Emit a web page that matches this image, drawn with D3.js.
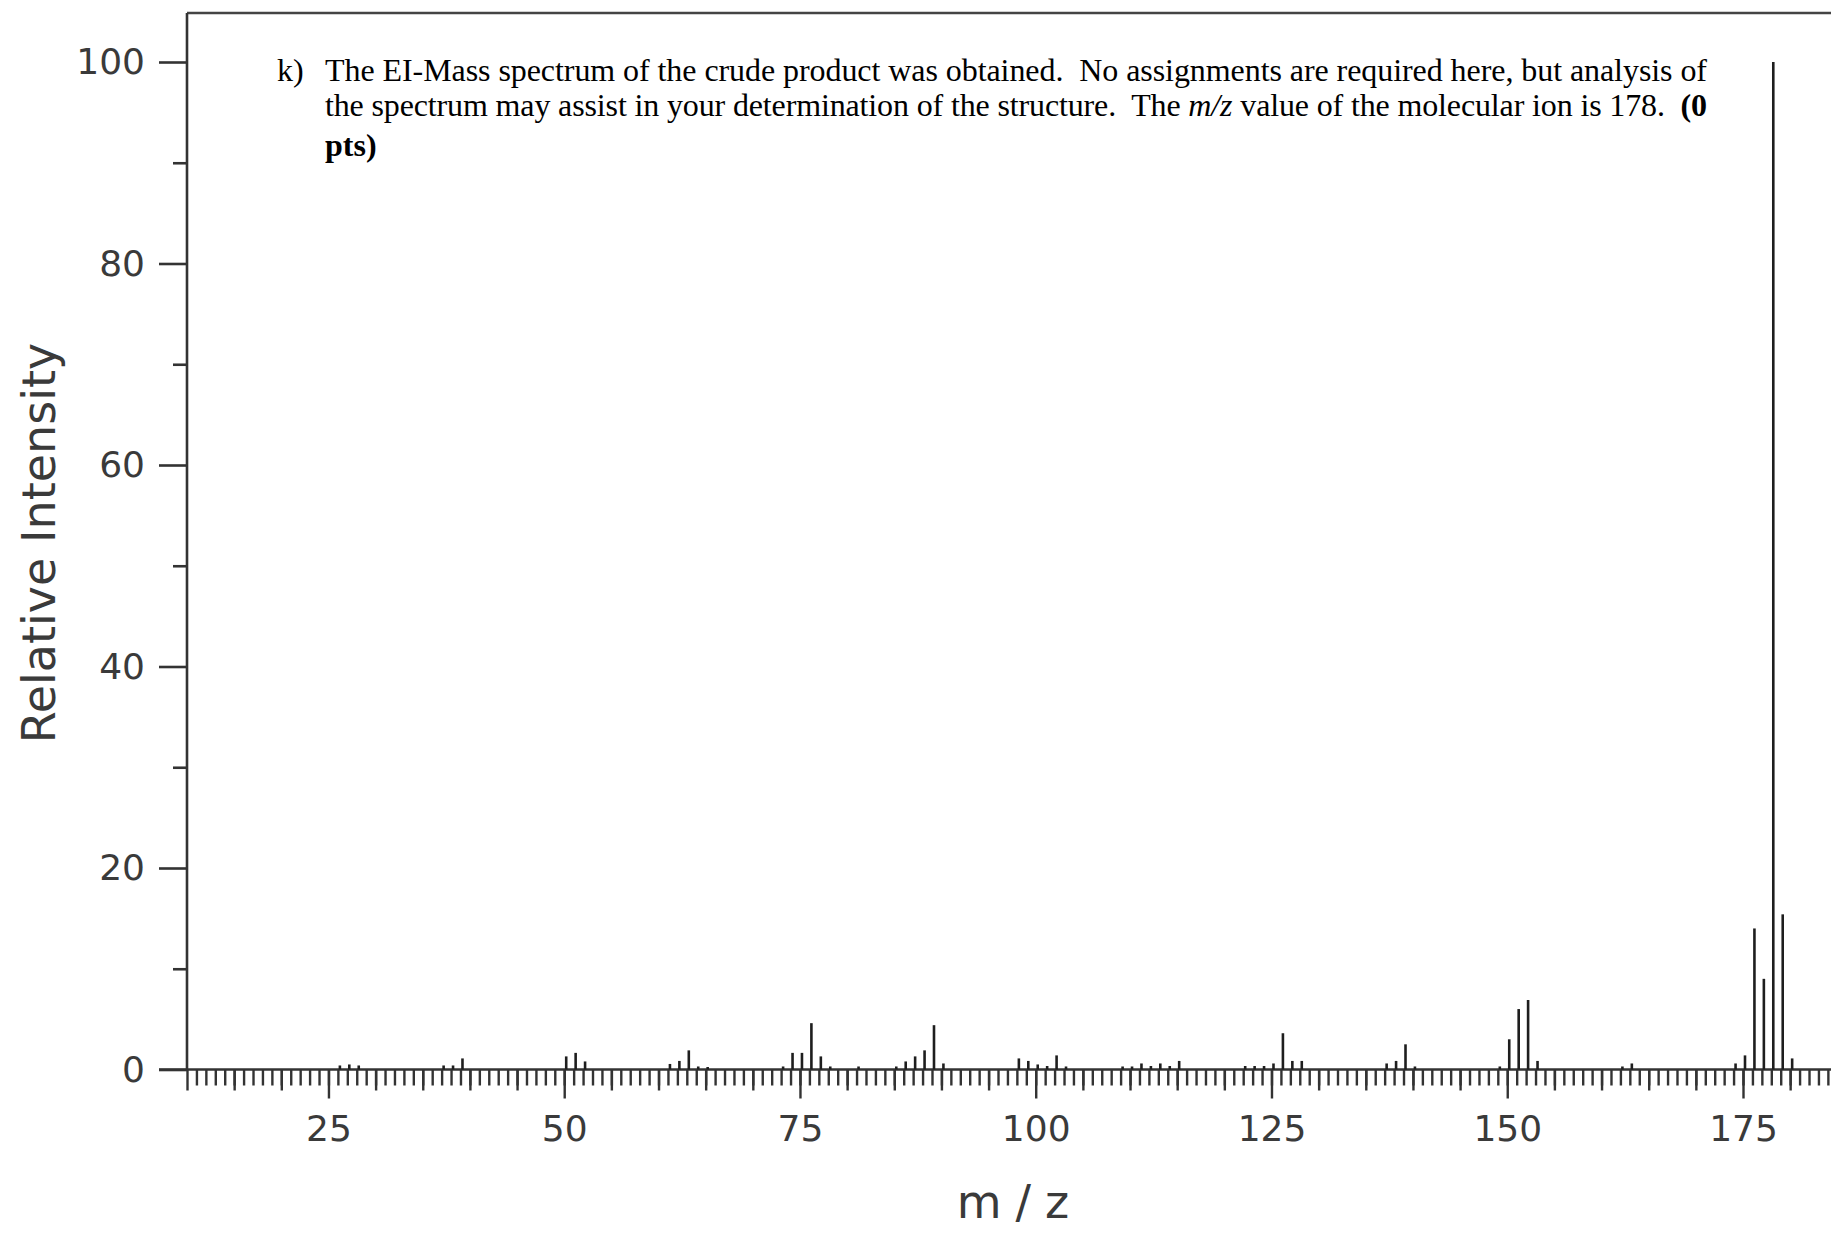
<!DOCTYPE html>
<html>
<head>
<meta charset="utf-8">
<script src="https://cdn.jsdelivr.net/npm/d3@7"></script>
<style>
  body { margin: 0; background: #fff; }
  .tick text { font-family: "DejaVu Sans", sans-serif; fill: #3a3a3a; }
</style>
</head>
<body>
<svg id="chart" width="1831" height="1233"></svg>
<script>
"use strict"

// EI mass spectrum
let mz = [26, 27, 28, 37, 38, 39, 50, 51, 52, 61, 62, 63, 64, 65,
          73, 74, 75, 76, 77, 78, 81, 85, 86, 87, 88, 89, 90,
          98, 99, 100, 101, 102, 103, 109, 110, 111, 112, 113, 114, 115,
          122, 123, 124, 125, 126, 127, 128, 137, 138, 139, 140,
          149, 150, 151, 152, 153, 162, 163, 174, 175, 176, 177, 178, 179, 180]
let intensity = [0.4, 0.5, 0.4, 0.4, 0.4, 1.1, 1.3, 1.65, 0.8, 0.55, 0.85, 1.9, 0.3, 0.25,
                 0.3, 1.65, 1.65, 4.6, 1.3, 0.3, 0.3, 0.3, 0.8, 1.3, 1.9, 4.4, 0.6,
                 1.1, 0.85, 0.5, 0.35, 1.4, 0.3, 0.3, 0.3, 0.6, 0.35, 0.6, 0.35, 0.85,
                 0.35, 0.35, 0.35, 0.6, 3.6, 0.85, 0.85, 0.6, 0.85, 2.5, 0.3,
                 0.3, 3.0, 6.0, 6.9, 0.85, 0.3, 0.6, 0.6, 1.4, 14.0, 9.0, 100, 15.4, 1.1]

let yMajor = [0, 20, 40, 60, 80, 100]
let yMinor = [10, 30, 50, 70, 90]
let xLabels = [25, 50, 75, 100, 125, 150, 175]
let xFives = [10, 15, 20, 30, 35, 40, 45, 55, 60, 65, 70, 80, 85, 90, 95,
              105, 110, 115, 120, 130, 135, 140, 145, 155, 160, 165, 170, 180]

let svg = d3.select("#chart")

let left = 187, frameTop = 13, base = 1069.5

let xscale = d3.scaleLinear().domain([10, 175]).range([left, 1743])
let yscale = d3.scaleLinear().domain([0, 100]).range([base, 62])

let axisColor = "#333"

// frame: top border runs off the right edge
svg.append("line")
    .attr("x1", left).attr("x2", 1840)
    .attr("y1", frameTop).attr("y2", frameTop)
    .attr("stroke", "#444").attr("stroke-width", 2.5)

// x axis ticks (every unit, longer at fives, longest at labels)
function xAxis(values, size, labels) {
    let ax = d3.axisBottom(xscale).tickValues(values).tickSize(size).tickSizeOuter(0)
    if (labels) ax.tickPadding(17).tickFormat(d3.format("d"))
    else ax.tickFormat("")
    let g = svg.append("g").attr("transform", "translate(0," + base + ")").call(ax)
    g.select(".domain").remove()
    g.selectAll("line").attr("stroke", axisColor).attr("stroke-width", 2.4)
    g.selectAll("text").style("font-size", "36px")
    return g
}

xAxis(d3.range(11, 185), 16, false)
xAxis(xFives, 21, false)
xAxis(xLabels, 29, true)

svg.append("line")
    .attr("x1", 159).attr("x2", 1840)
    .attr("y1", base).attr("y2", base)
    .attr("stroke", axisColor).attr("stroke-width", 2.6)

// y axis
function yAxis(values, size, labels) {
    let ax = d3.axisLeft(yscale).tickValues(values).tickSize(size).tickSizeOuter(0)
    if (labels) ax.tickPadding(14)
    else ax.tickFormat("")
    let g = svg.append("g").attr("transform", "translate(" + left + ",0)").call(ax)
    g.select(".domain").remove()
    g.selectAll("line").attr("stroke", axisColor).attr("stroke-width", 2.6)
    g.selectAll("text").style("font-size", "36px")
}
yAxis(yMajor, 28, true)
yAxis(yMinor, 14, false)

svg.append("line")
    .attr("x1", left).attr("x2", left)
    .attr("y1", frameTop).attr("y2", base)
    .attr("stroke", axisColor).attr("stroke-width", 2.6)

// spectrum sticks (sit a hair right of the tick marks in the original)
svg.append("g").attr("transform", "translate(2,0)")
    .selectAll("line")
    .data(mz)
    .enter().append("line")
    .attr("x1", function(d) { return xscale(d) })
    .attr("x2", function(d) { return xscale(d) })
    .attr("y1", yscale(0))
    .attr("y2", function(d, i) { return yscale(intensity[i]) })
    .attr("stroke", "#1e1e1e")
    .attr("stroke-width", 2.6)

// axis titles
svg.append("text")
    .attr("x", 1020).attr("y", 1218)
    .attr("text-anchor", "middle")
    .style("font-family", "DejaVu Sans, sans-serif")
    .style("font-size", "46px")
    .style("letter-spacing", "14px")
    .attr("fill", "#3a3a3a")
    .text("m/z")

svg.append("text")
    .attr("transform", "translate(55,543) rotate(-90)")
    .attr("text-anchor", "middle")
    .style("font-family", "DejaVu Sans, sans-serif")
    .style("font-size", "46px")
    .attr("fill", "#3a3a3a")
    .text("Relative Intensity")

// question text
let note = svg.append("g")
    .style("font-family", "Liberation Serif, Times New Roman, serif")
    .style("font-size", "32px")
    .attr("fill", "#000")

note.append("text").attr("x", 277).attr("y", 81).text("k)")

note.append("text").attr("x", 325).attr("y", 81)
    .attr("textLength", 1382).attr("lengthAdjust", "spacing")
    .text("The EI-Mass spectrum of the crude product was obtained.\u00a0 No assignments are required here, but analysis of")

let l2 = note.append("text").attr("x", 325).attr("y", 116)
    .attr("textLength", 1382).attr("lengthAdjust", "spacing")
l2.append("tspan").text("the spectrum may assist in your determination of the structure.\u00a0 The ")
l2.append("tspan").style("font-style", "italic").text("m/z")
l2.append("tspan").text(" value of the molecular ion is 178.\u00a0 ")
l2.append("tspan").style("font-weight", "bold").text("(0")

note.append("text").attr("x", 325).attr("y", 156)
    .style("font-weight", "bold").text("pts)")
</script>
</body>
</html>
